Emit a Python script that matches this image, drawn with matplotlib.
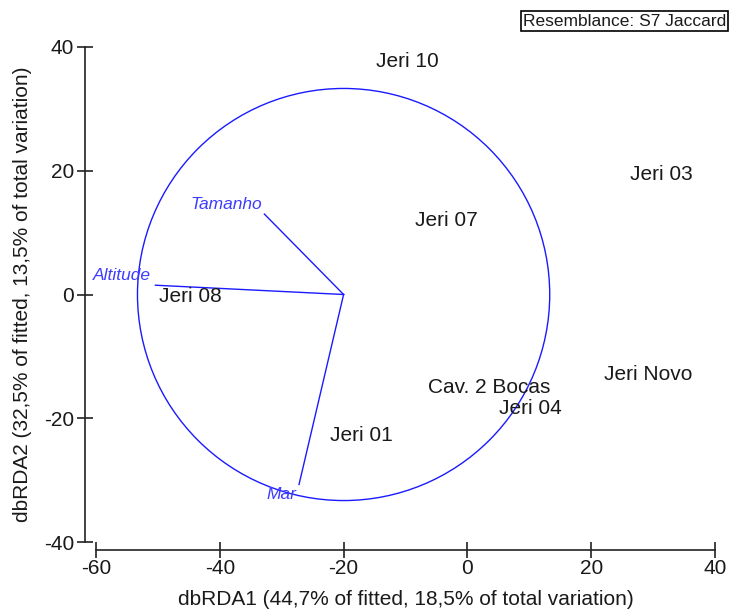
import matplotlib
matplotlib.use("Agg")
import matplotlib.pyplot as plt
from matplotlib.patches import Circle

plt.rcParams['font.family'] = ['Liberation Sans', 'DejaVu Sans']
plt.rcParams['axes.unicode_minus'] = False

# Sample scores on the first two dbRDA axes
samples = ["Jeri 10", "Jeri 03", "Jeri 07", "Jeri 08", "Cav. 2 Bocas",
           "Jeri 04", "Jeri Novo", "Jeri 01"]
sample_x = [-9.7, 31.3, -3.4, -44.8, 3.5, 10.1, 29.2, -17.2]
sample_y = [37.6, 19.4, 12.0, -0.4, -15.0, -18.4, -13.0, -22.8]

# Predictor vectors (drawn from the circle centre)
vectors = ["Tamanho", "Altitude", "Mar"]
vec_x = [-32.8, -50.4, -27.2]
vec_y = [13.0, 1.5, -30.7]
vec_label_x = [-38.9, -55.8, -30.1]
vec_label_y = [14.6, 3.1, -32.4]

centre = (-20.0, 0.0)
radius = 33.3

xticks = [-60, -40, -20, 0, 20, 40]
yticks = [-40, -20, 0, 20, 40]

fig = plt.figure(figsize=(7.31, 6.12), dpi=100)
ax = fig.add_axes([96 / 731, 1 - 542 / 612, 619 / 731, 495 / 612])
ax.set_xlim(-60, 40)
ax.set_ylim(-40, 40)

blue = '#1a1aff'
ax.add_patch(Circle(centre, radius, fill=False, edgecolor=blue, lw=1.0, clip_on=False))
for vx, vy in zip(vec_x, vec_y):
    ax.plot([centre[0], vx], [centre[1], vy], color=blue, lw=1.0, clip_on=False)
for name, lx, ly in zip(vectors, vec_label_x, vec_label_y):
    ax.text(lx, ly, name, color='#3c3cff', fontsize=12.5, style='italic',
            ha='center', va='center', clip_on=False)

for name, sx, sy in zip(samples, sample_x, sample_y):
    ax.text(sx, sy, name, color='#1a1a1a', fontsize=15, ha='center', va='center',
            clip_on=False)

for side in ['top', 'right']:
    ax.spines[side].set_visible(False)
ax.spines['left'].set_position(('outward', 7.9))
ax.spines['bottom'].set_position(('outward', 5.8))
ax.spines['left'].set_bounds(-40, 40)
ax.spines['bottom'].set_bounds(-60, 40)
for side in ['left', 'bottom']:
    ax.spines[side].set_linewidth(1.2)
    ax.spines[side].set_color('#222222')

ax.set_xticks(xticks)
ax.set_yticks(yticks)
ax.tick_params(direction='inout', length=11.5, width=1.2, color='#222222',
               labelsize=15, labelcolor='#1a1a1a')
ax.tick_params(axis='x', pad=1)
ax.tick_params(axis='y', pad=2)

ax.set_xlabel("dbRDA1 (44,7% of fitted, 18,5% of total variation)", fontsize=15,
              color='#1a1a1a')
ax.set_ylabel("dbRDA2 (32,5% of fitted, 13,5% of total variation)", fontsize=15,
              color='#1a1a1a')
ax.xaxis.set_label_coords(0.5, -0.097)
ax.yaxis.set_label_coords(-0.103, 0.5)

fig.text(624.7 / 731, 1 - 21 / 612, "Resemblance: S7 Jaccard", fontsize=12.5,
         ha='center', va='center', color='#1a1a1a',
         bbox=dict(boxstyle='square,pad=0.12', facecolor='white',
                   edgecolor='black', lw=1.2))

fig.savefig("out.png", dpi=100)
